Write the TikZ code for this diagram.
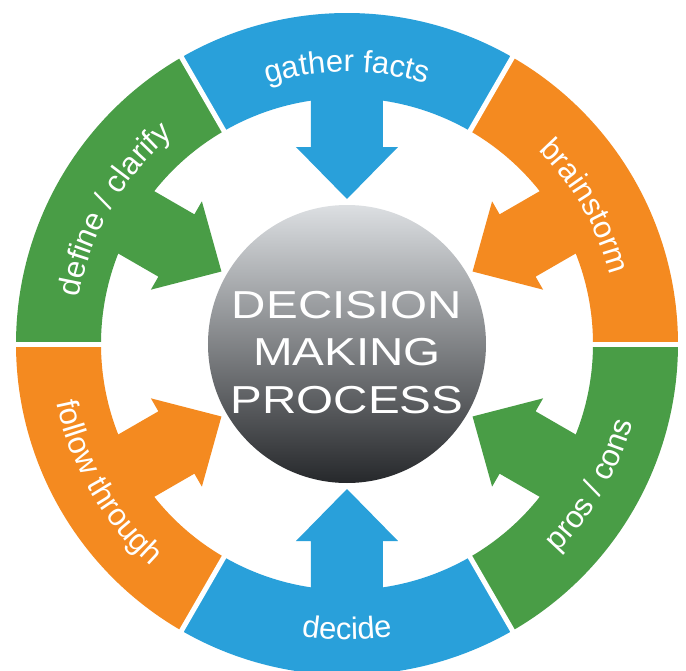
\documentclass[tikz,border=0pt]{standalone}
\usepackage{fontspec}
\usetikzlibrary{decorations.text}
\newfontfamily\segfont{Liberation Sans}
\newfontfamily\corefont[FakeStretch=1.22]{Liberation Sans}
\definecolor{segblue}{RGB}{41,160,218}
\definecolor{segorange}{RGB}{244,138,32}
\definecolor{seggreen}{RGB}{73,157,70}
\definecolor{coretop}{RGB}{220,223,226}
\definecolor{corebottom}{RGB}{38,40,43}
\newcommand{\seglabel}{\segfont\fontsize{31}{37}\selectfont\color{white}}

\begin{document}
\begin{tikzpicture}[x=1pt, y=1pt,
    core/.style={circle, minimum size=278pt, inner sep=0pt, top color=coretop, bottom color=corebottom},
    title/.style={anchor=base, text=white, font=\corefont\fontsize{39}{47}\selectfont},
    gap/.style={white, line width=5pt}]
  \fill[white] (-347,-326) rectangle (339,344);
  \useasboundingbox (-347,-326) rectangle (339,344);
  \clip (-347,-326) rectangle (339,344);
  \foreach \a/\c in {90/segblue, 30/segorange, -30/seggreen, -90/segblue, -150/segorange, 150/seggreen} {
    \fill[\c] (\a-30:331pt) arc[start angle=\a-30, end angle=\a+30, radius=331pt]
      -- (\a+30:246pt) arc[start angle=\a+30, end angle=\a-30, radius=246pt] -- cycle;
    \fill[\c, rotate=\a] (260,36) -- (197,36) -- (197,51) -- (145,0) -- (197,-51) -- (197,-36) -- (260,-36) -- cycle;
  }
  \foreach \a in {0, 60, ..., 300}
    \draw[gap] (\a:240pt) -- (\a:340pt);
  \path[decorate, decoration={text along path, text align=center, text={|\seglabel|gather facts}}]
    (120:272pt) arc[start angle=120, end angle=60, radius=272pt];
  \path[decorate, decoration={text along path, text align=center, text={|\seglabel|brainstorm}}]
    (60:272pt) arc[start angle=60, end angle=0, radius=272pt];
  \path[decorate, decoration={text along path, text align=center, text={|\seglabel|define / clarify}}]
    (180:272pt) arc[start angle=180, end angle=120, radius=272pt];
  \path[decorate, decoration={text along path, text align=center, text={|\seglabel|follow through}}]
    (180:296pt) arc[start angle=180, end angle=240, radius=296pt];
  \path[decorate, decoration={text along path, text align=center, text={|\seglabel|decide}}]
    (240:296pt) arc[start angle=240, end angle=300, radius=296pt];
  \path[decorate, decoration={text along path, text align=center, text={|\seglabel|pros / cons}}]
    (300:296pt) arc[start angle=300, end angle=360, radius=296pt];
  \node[core] (core) at (0,0) {};
  \node[title] (decision) at (0,26) {DECISION};
  \node[title] (making) at (0,-21) {MAKING};
  \node[title] (process) at (0,-69) {PROCESS};
\end{tikzpicture}
\end{document}
